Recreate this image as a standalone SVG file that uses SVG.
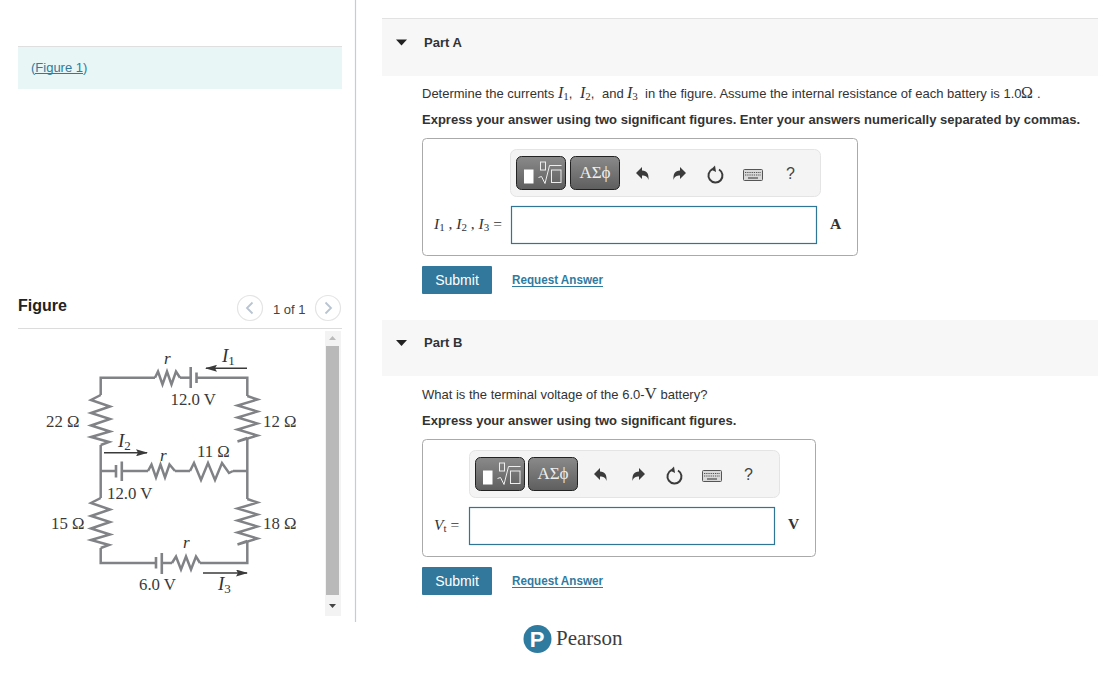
<svg xmlns="http://www.w3.org/2000/svg" width="1101" height="674" viewBox="0 0 1101 674">
<style>
text{font-family:"Liberation Sans",Arial,sans-serif;fill:#333}
.s{font-size:13px}
.b{font-size:13px;font-weight:700}
.m{font-family:"Liberation Serif","Times New Roman",serif}
.i{font-family:"Liberation Serif","Times New Roman",serif;font-style:italic}
.c{font-family:"Liberation Serif","Times New Roman",serif;font-size:16.800px;fill:#3a3a3a}
.r{font-size:17px;fill:#333}
.l{font-size:19px;fill:#333}
.w{fill:none;stroke:#808285;stroke-width:2.500;stroke-linejoin:miter}
.p{fill:none;stroke:#808285;stroke-width:2.600}
.a{stroke:#3a3a3a;stroke-width:1.500;fill:none}
.h{fill:#f7f7f7}
.box{fill:#fff;stroke:#aaa;stroke-width:1}
.tb{fill:#f4f4f4;stroke:#e4e4e4;stroke-width:1}
.btn{fill:url(#g);stroke:#222;stroke-width:1}
.in{fill:#fff;stroke:#2f7596;stroke-width:1.200}
.sub{fill:#32789c}
.subt{fill:#fff;font-size:14px}
.link{fill:#2f7ba0;font-size:12.500px;font-weight:700}
.ul{stroke:#2f7ba0;stroke-width:1}
.ic{fill:#3b3b3b}
</style>
<defs>
<linearGradient id="g" x1="0" y1="0" x2="0" y2="1"><stop offset="0" stop-color="#8a8a8a"/><stop offset="1" stop-color="#5e5e5e"/></linearGradient>
<marker id="ah" markerWidth="12" markerHeight="7" refX="11" refY="3.500" orient="auto" markerUnits="userSpaceOnUse"><path d="M0 0L12 3.500L0 7L2 3.500Z" fill="#3a3a3a"/></marker>
<g id="undo"><path class="ic" d="M0 5L6-1V2.500C11 2.500 13 6 12.500 12C11.500 8.500 9.500 7.500 6 7.500V11Z"/></g>
<g id="redo"><path class="ic" d="M13 5L7-1V2.500C2 2.500 0 6 .5 12C1.500 8.500 3.500 7.500 7 7.500V11Z"/></g>
<g id="reset"><path d="M4.500 1.200A7 7 0 1 0 11 1.500" fill="none" stroke="#3b3b3b" stroke-width="2"/><path class="ic" d="M7-2.500L8 4L3 1.500Z"/></g>
<g id="kbd"><rect x=".5" y=".5" width="19" height="11" rx="1" fill="#d9d9d9" stroke="#555"/><path d="M2 3.500H18M2 6H18" stroke="#555" stroke-width="1.200" stroke-dasharray="1.300 .9"/><path d="M5 9H15" stroke="#555" stroke-width="1.300"/></g>
<g id="sqrt"><rect x="7.500" y="13" width="9.500" height="14" fill="#fff"/><path d="M22 21L25 20L28.500 27L33 9H45" fill="none" stroke="#eee" stroke-width="1"/><rect x="24" y="5.500" width="5" height="8" fill="none" stroke="#eee"/><rect x="35" y="13.500" width="9.500" height="12.500" fill="none" stroke="#eee"/></g>
</defs>
<rect width="1101" height="674" fill="#fff"/>

<g id="divider"><path d="M355.500 0V622" stroke="#c6cbdc" stroke-width="1.200"/></g>

<g id="figure-link">
<rect x="18" y="46" width="324" height="43" fill="#e8f6f6"/><path d="M18 46.500H342" stroke="#dfdfdf"/>
<text class="s" x="31" y="72" style="fill:#2f7ba0">(Figure 1)</text><path class="ul" d="M35 73.500H83"/>
</g>

<g id="figure-header">
<text x="18" y="311" style="font-size:16px;font-weight:700;fill:#222">Figure</text>
<path d="M18 328.500H342" stroke="#dcdcdc"/>
<circle cx="250" cy="308" r="12.500" fill="#fff" stroke="#e4e4e4" stroke-width="1.200"/>
<path d="M252.500 302.500L247 308L252.500 313.500" fill="none" stroke="#b9c4d2" stroke-width="1.800"/>
<text x="273" y="314" style="font-size:13px;fill:#444">1 of 1</text>
<circle cx="328" cy="308" r="12.500" fill="#fff" stroke="#e4e4e4" stroke-width="1.200"/>
<path d="M325.500 302.500L331 308L325.500 313.500" fill="none" stroke="#b9c4d2" stroke-width="1.800"/>
</g>

<g id="scrollbar">
<rect x="325" y="331" width="16" height="285" fill="#f3f3f3"/>
<rect x="326" y="346" width="13" height="249" fill="#b9b9b9"/>
<path d="M329 340L332.500 336L336 340Z" fill="#bbb"/>
<path d="M329 604L332.500 608L336 604Z" fill="#444"/>
</g>

<g id="connectors">
<polyline class="w" points="155,377.700 100.700,377.700 100.700,395"/>
<polyline class="w" points="100.700,445 100.700,498"/>
<polyline class="w" points="100.700,548 100.700,563 155,563"/>
<polyline class="w" points="180,377.700 190.500,377.700"/>
<polyline class="w" points="196,377.700 247.300,377.700 247.300,396"/>
<polyline class="w" points="247.300,438 247.300,499"/>
<polyline class="w" points="247.300,541 247.300,563 200,563"/>
<polyline class="w" points="162,563 172,563"/>
<polyline class="w" points="100.700,471 116,471"/>
<polyline class="w" points="122,471 148,471"/>
<polyline class="w" points="175,471 190,471"/>
<polyline class="w" points="233,471 247.300,471"/>
<path class="a" d="M247 368.300H206" marker-end="url(#ah)"/>
<path class="a" d="M104 452.800H147" marker-end="url(#ah)"/>
<path class="a" d="M203 573H247" marker-end="url(#ah)"/>
</g>

<g id="battery-top"><path class="p" d="M190.700 367V388M196.500 372.500V383"/><text class="c" x="170.500" y="405">12.0 V</text></g>
<g id="resistor-r-top"><polyline class="w" points="155,377.700 158,371.500 162.500,384.500 167,371.500 171.500,384.500 176,371.500 180,377.700"/><text class="i r" x="164" y="364">r</text></g>
<g id="resistor-22"><polyline class="w" points="100.700,395 91,400 110,406.500 91,413 110,419 91,425.500 110,431.500 91,437 109,442 100.700,445"/><text class="c" x="46" y="427">22 Ω</text></g>
<g id="resistor-12"><polyline class="w" points="247.300,396 257.500,399.500 237.500,405.500 257.500,411.500 237.500,417.500 257.500,423.500 237.500,429.500 257.500,435.500 237.500,441.500 247.300,438"/><text class="c" x="263" y="427">12 Ω</text></g>
<g id="battery-mid"><path class="p" d="M116 465V477.500M121.800 461.500V481"/><text class="c" x="107" y="499">12.0 V</text></g>
<g id="resistor-r-mid"><polyline class="w" points="148,471 151.500,464.500 156,477.500 160.500,464.500 165,477.500 169.500,464.500 175,471"/><text class="i r" x="160" y="461">r</text></g>
<g id="resistor-11"><polyline class="w" points="190,471 194,463 201,480 208,463 215,480 222,463 229,473 233,471"/><text class="c" x="197" y="457">11 Ω</text></g>
<g id="resistor-15"><polyline class="w" points="100.700,498 91,503 110,509.500 91,516 110,522 91,528.500 110,534.500 91,540 109,545 100.700,548"/><text class="c" x="51" y="529">15 Ω</text></g>
<g id="resistor-18"><polyline class="w" points="247.300,499 257.500,502.500 237.500,508.500 257.500,514.500 237.500,520.500 257.500,526.500 237.500,532.500 257.500,538.500 237.500,544.500 247.300,541"/><text class="c" x="263" y="529">18 Ω</text></g>
<g id="battery-bottom"><path class="p" d="M156 557V568.500M161.800 553V574"/><text class="c" x="139" y="590">6.0 V</text></g>
<g id="resistor-r-bottom"><polyline class="w" points="172,563 176,556.500 181,569.500 186,556.500 191,569.500 196,556.500 200,563"/><text class="i r" x="183" y="548">r</text></g>
<g id="label-i1"><text class="i l" x="222" y="362">I<tspan dy="3" class="m" style="font-style:normal;font-size:13px">1</tspan></text></g>
<g id="label-i2"><text class="i l" x="118" y="447">I<tspan dy="3" class="m" style="font-style:normal;font-size:13px">2</tspan></text></g>
<g id="label-i3"><text class="i l" x="218" y="590">I<tspan dy="3" class="m" style="font-style:normal;font-size:13px">3</tspan></text></g>

<g id="part-a">
<rect class="h" x="382" y="18" width="716" height="58"/><path d="M382 18.500H1098" stroke="#e2e2e2"/>
<path d="M396 39.500H407L401.500 45.500Z" fill="#222"/>
<text class="b" x="424" y="47">Part A</text>
<text class="s" x="422" y="98">Determine the currents <tspan class="i" font-size="16" x="558">I</tspan><tspan dy="2" class="m" font-size="11">1</tspan><tspan dy="-2">, </tspan><tspan class="i" font-size="16" x="580">I</tspan><tspan dy="2" class="m" font-size="11">2</tspan><tspan dy="-2">, </tspan><tspan x="602">and </tspan><tspan class="i" font-size="16" x="627">I</tspan><tspan dy="2" class="m" font-size="11">3</tspan><tspan dy="-2" x="645">in the figure. Assume the internal resistance of each battery is 1.0</tspan><tspan class="m" font-size="16" x="1021">Ω</tspan><tspan x="1037">.</tspan></text>
<text class="b" x="422" y="124">Express your answer using two significant figures. Enter your answers numerically separated by commas.</text>
<rect class="box" x="422.500" y="138.500" width="435" height="117" rx="4"/>
<rect class="tb" x="510.500" y="149.500" width="310" height="47" rx="6"/>
<rect class="btn" x="516.500" y="156.500" width="49" height="33" rx="5"/><use href="#sqrt" x="516.500" y="156.500"/>
<rect class="btn" x="570.500" y="156.500" width="49" height="33" rx="5"/>
<text class="m" x="595" y="178" text-anchor="middle" style="font-size:17px;fill:#eee">ΑΣϕ</text>
<use href="#undo" x="636" y="168"/><use href="#redo" x="673" y="168"/><use href="#reset" x="708" y="168"/><use href="#kbd" x="743" y="169"/>
<text x="786" y="179" style="font-size:16px;fill:#444">?</text>
<text class="m" x="434" y="229" style="font-size:15.500px"><tspan class="i">I</tspan><tspan dy="2" font-size="11">1</tspan><tspan dy="-2"> , </tspan><tspan class="i">I</tspan><tspan dy="2" font-size="11">2</tspan><tspan dy="-2"> , </tspan><tspan class="i">I</tspan><tspan dy="2" font-size="11">3</tspan><tspan dy="-2"> =</tspan></text>
<rect class="in" x="511.500" y="206.500" width="305" height="37"/>
<text class="m" x="830" y="229" style="font-size:15.500px;font-weight:700">A</text>
<rect class="sub" x="422" y="266" width="70" height="28" rx="1"/>
<text class="subt" x="457" y="285" text-anchor="middle">Submit</text>
<text class="link" x="512" y="284" textLength="91" lengthAdjust="spacingAndGlyphs">Request Answer</text><path class="ul" d="M512 286.500H603"/>
</g>

<g id="part-b">
<rect class="h" x="382" y="320" width="716" height="56"/>
<path d="M396 340H407L401.500 346Z" fill="#222"/>
<text class="b" x="424" y="347">Part B</text>
<text class="s" x="422" y="399">What is the terminal voltage of the 6.0-<tspan class="m" font-size="17">V</tspan> battery?</text>
<text class="b" x="422" y="425">Express your answer using two significant figures.</text>
<rect class="box" x="422.500" y="439.500" width="393" height="117" rx="4"/>
<rect class="tb" x="469.500" y="450.500" width="310" height="47" rx="6"/>
<rect class="btn" x="475.500" y="457.500" width="49" height="33" rx="5"/><use href="#sqrt" x="475.500" y="457.500"/>
<rect class="btn" x="528.500" y="457.500" width="49" height="33" rx="5"/>
<text class="m" x="553" y="479" text-anchor="middle" style="font-size:17px;fill:#eee">ΑΣϕ</text>
<use href="#undo" x="594" y="469"/><use href="#redo" x="632" y="469"/><use href="#reset" x="667" y="469"/><use href="#kbd" x="702" y="470"/>
<text x="744" y="480" style="font-size:16px;fill:#444">?</text>
<text class="m" x="434" y="530" style="font-size:15.500px"><tspan class="i">V</tspan><tspan dy="2" font-size="11">t</tspan><tspan dy="-2"> =</tspan></text>
<rect class="in" x="469.500" y="507.500" width="305" height="37"/>
<text class="m" x="788" y="529" style="font-size:15.500px;font-weight:700">V</text>
<rect class="sub" x="422" y="567" width="70" height="28" rx="1"/>
<text class="subt" x="457" y="586" text-anchor="middle">Submit</text>
<text class="link" x="512" y="585" textLength="91" lengthAdjust="spacingAndGlyphs">Request Answer</text><path class="ul" d="M512 587.500H603"/>
</g>

<g id="pearson-logo">
<circle cx="537.500" cy="639" r="14" fill="#2f7ba0"/>
<text x="537" y="647" text-anchor="middle" style="font-size:22px;font-weight:700;fill:#fff">P</text>
<text class="m" x="556" y="645" style="font-size:21px;fill:#3d3d3d">Pearson</text>
</g>
</svg>
